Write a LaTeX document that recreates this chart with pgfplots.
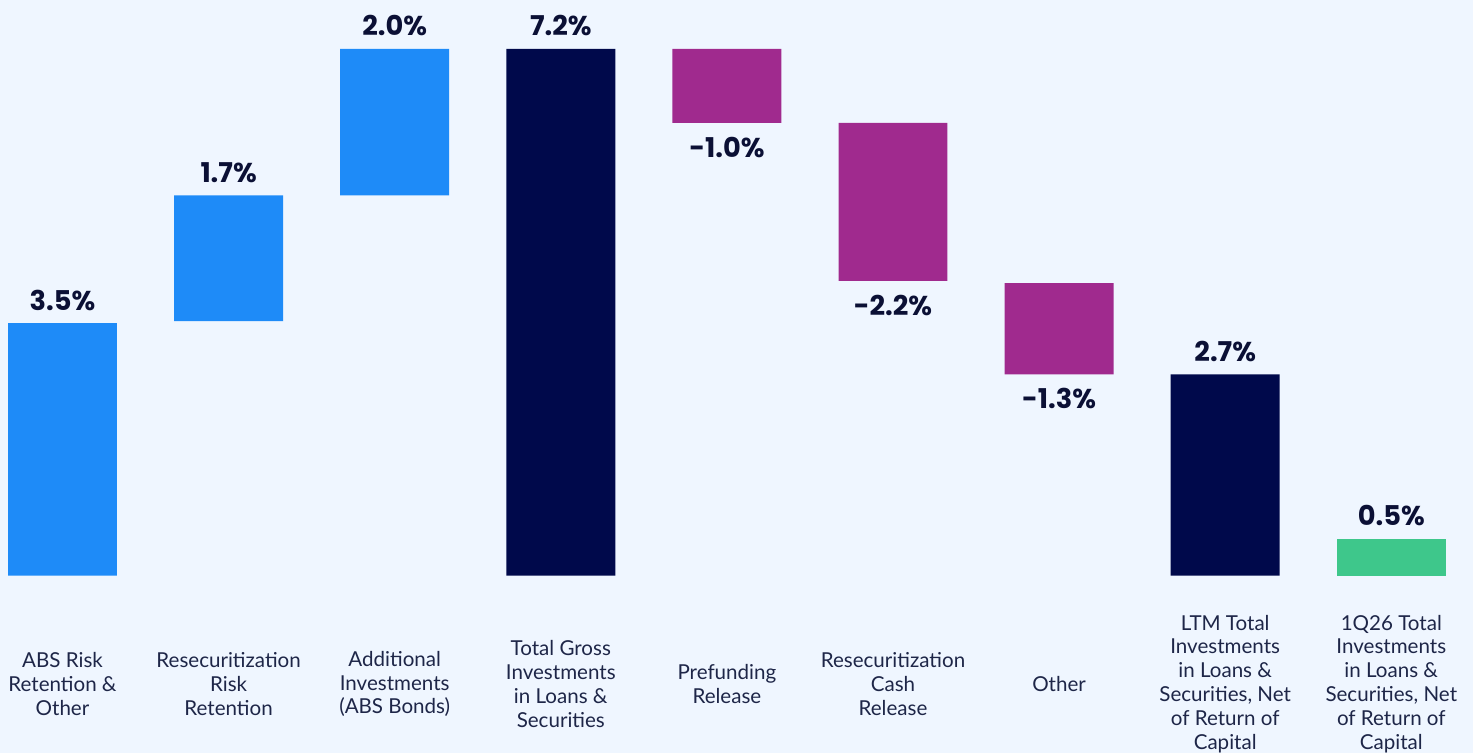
\documentclass[border=0pt]{standalone}
\usepackage{pgfplots}
\pgfplotsset{compat=1.18}
\usepackage{fontspec}
\setmainfont{Lato}
\newfontfamily\valfont{Poppins}
\definecolor{bg}{RGB}{239,246,255}
\definecolor{cblue}{RGB}{30,139,248}
\definecolor{cnavy}{RGB}{0,9,75}
\definecolor{cpurple}{RGB}{160,42,142}
\definecolor{cgreen}{RGB}{62,199,139}
\definecolor{valcol}{RGB}{11,16,53}
\definecolor{labcol}{RGB}{30,38,72}
\begin{document}
\begin{tikzpicture}
\pgfplotsset{common/.style={scale only axis, width=294.6mm, height=150.6mm,
  xmin=-0.3763, xmax=8.492, ymin=-2.427, ymax=7.870,
  axis line style={draw=none}, tick style={draw=none}, ytick=\empty, clip=false}}
\begin{axis}[common, axis background/.style={fill=bg}, ybar stacked, bar width=0.656,
  xtick={0,...,8},
  xticklabels={{ABS Risk\\Retention \&\\Other},{Resecuritization\\Risk\\Retention},{Additional\\Investments\\(ABS Bonds)},{Total Gross\\Investments\\in Loans \&\\Securities},{Prefunding\\Release},{Resecuritization\\Cash\\Release},{Other},{LTM Total\\Investments\\in Loans \&\\Securities, Net\\of Return of\\Capital},{1Q26 Total\\Investments\\in Loans \&\\Securities, Net\\of Return of\\Capital}},
  xticklabel style={align=center, anchor=center, yshift=13.8mm, text=labcol, font=\fontsize{11.7}{13.6}\selectfont}]
\addplot[draw=none, fill=none] coordinates {(0,0) (1,3.48) (2,5.2) (3,0) (4,6.19) (5,4.03) (6,2.75) (7,0) (8,0)};
\addplot[draw=none, fill=cblue] coordinates {(0,3.45) (1,1.72) (2,2.0) (3,0) (4,0) (5,0) (6,0) (7,0) (8,0)};
\addplot[draw=none, fill=cnavy] coordinates {(0,0) (1,0) (2,0) (3,7.2) (4,0) (5,0) (6,0) (7,2.75) (8,0)};
\addplot[draw=none, fill=cpurple] coordinates {(0,0) (1,0) (2,0) (3,0) (4,1.01) (5,2.16) (6,1.25) (7,0) (8,0)};
\addplot[draw=none, fill=cgreen] coordinates {(0,0) (1,0) (2,0) (3,0) (4,0) (5,0) (6,0) (7,0) (8,0.5)};
\coordinate (bl) at (rel axis cs:0,0);
\coordinate (tr) at (rel axis cs:1,1);
\end{axis}
\begin{axis}[common, xtick=\empty]
\addplot[only marks, mark=none, nodes near coords, point meta=explicit symbolic,
  nodes near coords style={anchor=base, yshift=2.6mm, text=valcol, font={\valfont\bfseries\fontsize{15.5}{18}\selectfont}}]
  coordinates {(0,3.45) [3.5\%] (1,5.2) [1.7\%] (2,7.2) [2.0\%] (3,7.2) [7.2\%] (7,2.75) [2.7\%] (8,0.5) [0.5\%]};
\addplot[only marks, mark=none, nodes near coords, point meta=explicit symbolic,
  nodes near coords style={anchor=base, yshift=-6.9mm, text=valcol, font={\valfont\bfseries\fontsize{15.5}{18}\selectfont}}]
  coordinates {(4,6.19) [-1.0\%] (5,4.03) [-2.2\%] (6,2.75) [-1.3\%]};
\end{axis}
\pgfresetboundingbox
\useasboundingbox (bl) rectangle (tr);
\end{tikzpicture}
\end{document}
